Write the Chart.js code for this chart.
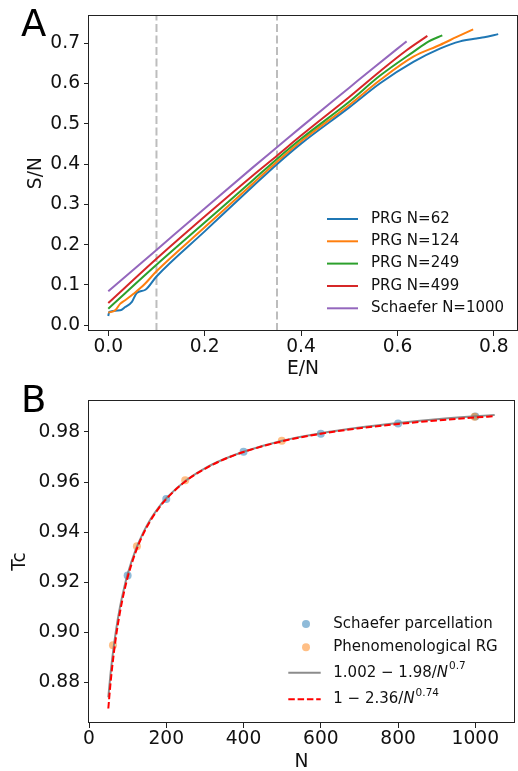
<!DOCTYPE html>
<html>
<head>
<meta charset="utf-8">
<script src="https://cdn.jsdelivr.net/npm/chart.js@4"></script>
<style>
  body { margin: 0; background: #fff; width: 518px; height: 771px; overflow: hidden; position: relative; }
  canvas { position: absolute; left: 0; }
  #chartA { top: 0; }
  #chartB { top: 385px; }
  .panel { position: absolute; left: 21px; font: 37px "DejaVu Sans"; color: #000; line-height: 1; z-index: 2; }
</style>
</head>
<body>
<div class="panel" style="top:5px">A</div>
<div class="panel" style="top:381px">B</div>
<canvas id="chartA" width="518" height="385"></canvas>
<canvas id="chartB" width="518" height="386"></canvas>
<script>
// ---- panel A: entropy vs energy per node ----
const prg62E  = [0, 0.002, 0.025, 0.035, 0.049, 0.059, 0.077, 0.1, 0.2, 0.3, 0.35, 0.4, 0.5, 0.564, 0.633, 0.688, 0.73, 0.764, 0.78, 0.809];
const prg62S  = [0.023, 0.033, 0.037, 0.045, 0.058, 0.080, 0.088, 0.121, 0.233, 0.345, 0.400, 0.451, 0.541, 0.601, 0.654, 0.687, 0.705, 0.712, 0.715, 0.723];
const prg124E = [0, 0.0145, 0.025, 0.035, 0.0525, 0.073, 0.1, 0.2, 0.3, 0.35, 0.4, 0.5, 0.564, 0.633, 0.688, 0.723, 0.757];
const prg124S = [0.031, 0.037, 0.0535, 0.062, 0.078, 0.099, 0.134, 0.243, 0.352, 0.406, 0.457, 0.547, 0.609, 0.667, 0.696, 0.716, 0.735];
const prg249E = [0, 0.1, 0.2, 0.3, 0.35, 0.4, 0.5, 0.564, 0.633, 0.665, 0.693];
const prg249S = [0.041, 0.150, 0.255, 0.360, 0.413, 0.463, 0.555, 0.620, 0.679, 0.705, 0.720];
const prg499E = [0, 0.1, 0.2, 0.3, 0.35, 0.4, 0.5, 0.564, 0.619, 0.662];
const prg499S = [0.055, 0.165, 0.270, 0.372, 0.421, 0.471, 0.567, 0.631, 0.683, 0.7185];
const schE    = [0, 0.1, 0.2, 0.3, 0.35, 0.4, 0.5, 0.55, 0.6, 0.619];
const schS    = [0.084, 0.187, 0.290, 0.392, 0.442, 0.492, 0.590, 0.639, 0.687, 0.705];
const seriesA = ['PRG N=62', 'PRG N=124', 'PRG N=249', 'PRG N=499', 'Schaefer N=1000'];
const vlineE  = [0.1, 0.35];
const xTicksA = [0, 0.2, 0.4, 0.6, 0.8];
const yTicksA = [0, 0.1, 0.2, 0.3, 0.4, 0.5, 0.6, 0.7];
const xRangeA = [-0.04, 0.848];
const yRangeA = [-0.0145, 0.770];

// ---- panel B: critical temperature vs N ----
const schaeferN  = [100, 200, 400, 600, 800, 1000];
const schaeferTc = [0.9226, 0.9532, 0.9721, 0.9793, 0.9834, 0.9862];
const prgN  = [62, 124, 249, 499, 998];
const prgTc = [0.8948, 0.9343, 0.9607, 0.9765, 0.9861];
const fitN    = [50, 55, 60, 70, 80, 90, 100, 120, 140, 160, 180, 200, 250, 300, 350, 400, 500, 600, 700, 800, 900, 1000, 1050];
const fitGray = [0.8740, 0.8822, 0.8893, 0.9008, 0.9099, 0.9171, 0.9232, 0.9326, 0.9397, 0.9453, 0.9498, 0.9535, 0.9605, 0.9655, 0.9692, 0.9721, 0.9765, 0.9795, 0.9818, 0.9836, 0.9851, 0.9863, 0.9868];
const fitRed  = [0.8695, 0.8784, 0.8860, 0.8983, 0.9078, 0.9155, 0.9219, 0.9317, 0.9391, 0.9448, 0.9494, 0.9532, 0.9603, 0.9653, 0.9691, 0.9720, 0.9763, 0.9793, 0.9815, 0.9832, 0.9846, 0.9858, 0.9863];
const seriesB = ['Schaefer parcellation', 'Phenomenological RG', '1.002 \u2212 1.98/N^0.7', '1 \u2212 2.36/N^0.74'];
const xTicksB = [0, 200, 400, 600, 800, 1000];
const yTicksB = [0.88, 0.90, 0.92, 0.94, 0.96, 0.98];
const xRangeB = [0, 1100];
const yRangeB = [0.8637, 0.9927];

const FONT = '"DejaVu Sans"';
const pts = (xs, ys) => xs.map((x, i) => ({ x: x, y: ys[i] }));

// legend drawn by hand so it can sit inside the axes like matplotlib
const handLegend = {
  id: 'handLegend',
  afterDatasetsDraw(chart, args, o) {
    if (!o.rows) return;
    const ctx = chart.ctx;
    ctx.save();
    ctx.textBaseline = 'middle';
    let k = 0;
    chart.data.datasets.forEach(ds => {
      if (!ds.label) return;
      const y = o.rows[k++];
      if (ds.showLine === false) {
        ctx.beginPath();
        ctx.fillStyle = ds.backgroundColor;
        ctx.arc(o.markX, y, 4, 0, Math.PI * 2);
        ctx.fill();
      } else {
        ctx.beginPath();
        ctx.strokeStyle = ds.borderColor;
        ctx.lineWidth = ds.borderWidth;
        ctx.setLineDash(ds.borderDash || []);
        ctx.moveTo(o.lineX[0], y);
        ctx.lineTo(o.lineX[1], y);
        ctx.stroke();
        ctx.setLineDash([]);
      }
      ctx.fillStyle = '#111';
      let x = o.textX;
      const parts = ds.label.split('^');
      if (parts.length === 1) {
        ctx.font = '15px ' + FONT;
        ctx.fillText(ds.label, x, y);
      } else {
        const head = parts[0].slice(0, -1);
        const v = parts[0].slice(-1);
        ctx.font = '15px ' + FONT;
        ctx.fillText(head, x, y);
        x += ctx.measureText(head).width;
        ctx.font = 'oblique 15px ' + FONT;
        ctx.fillText(v, x, y);
        x += ctx.measureText(v).width + 1;
        ctx.font = '10.5px ' + FONT;
        ctx.fillText(parts[1], x, y - 6);
      }
    });
    ctx.restore();
  }
};

// full box round the plot area
const frame = {
  id: 'frame',
  afterDraw(chart) {
    const { left, top, right, bottom } = chart.chartArea;
    const ctx = chart.ctx;
    ctx.save();
    ctx.strokeStyle = '#222';
    ctx.lineWidth = 1;
    ctx.strokeRect(Math.round(left) - 0.5, Math.round(top) + 0.5, Math.round(right - left) + 1, Math.round(bottom - top) - 1);
    ctx.restore();
  }
};

function axis(range, ticks, decimals, title, titlePad, size) {
  return {
    type: 'linear',
    min: range[0],
    max: range[1],
    afterBuildTicks: s => { s.ticks = ticks.map(v => ({ value: v })); },
    afterFit: s => { if (s.isHorizontal()) s.height = size; else s.width = size; },
    grid: { drawOnChartArea: false, tickLength: 5, tickColor: '#222', color: '#222' },
    border: { display: false },
    ticks: {
      color: '#111',
      font: { family: FONT, size: 18.67 },
      padding: 0,
      autoSkip: false,
      maxRotation: 0,
      callback: v => v.toFixed(decimals)
    },
    title: {
      display: true,
      text: title,
      color: '#111',
      font: { family: FONT, size: 18.67, lineHeight: 1 },
      padding: titlePad
    }
  };
}

const tab = ['#1f77b4', '#ff7f0e', '#2ca02c', '#d62728', '#9467bd'];
const curvesA = [[prg62E, prg62S], [prg124E, prg124S], [prg249E, prg249S], [prg499E, prg499S], [schE, schS]];

const dsA = curvesA.map((c, i) => ({
  label: seriesA[i],
  data: pts(c[0], c[1]),
  showLine: true,
  borderColor: tab[i],
  borderWidth: 2,
  pointRadius: 0,
  cubicInterpolationMode: 'monotone',
  order: 5 - i
}));
vlineE.forEach(e => dsA.push({
  data: pts([e, e], yRangeA),
  showLine: true,
  borderColor: '#bdbdbd',
  borderWidth: 2,
  borderDash: [8, 3.5],
  pointRadius: 0,
  order: 10
}));

const xA = axis(xRangeA, xTicksA, 1, 'E/N', { bottom: 7 }, 54);
xA.ticks.padding = 0;
const yA = axis(yRangeA, yTicksA, 1, 'S/N', { top: 26.5 }, 89);
yA.ticks.padding = 4;

new Chart(document.getElementById('chartA'), {
  type: 'scatter',
  data: { datasets: dsA },
  options: {
    responsive: false,
    animation: false,
    devicePixelRatio: 1,
    layout: { padding: { top: 14, right: 1, left: 0, bottom: 0 } },
    scales: { x: xA, y: yA },
    plugins: {
      legend: { display: false },
      tooltip: { enabled: false },
      handLegend: { rows: [219, 241.3, 263.6, 286, 308.3], lineX: [327, 358], textX: 371 }
    }
  },
  plugins: [handLegend, frame]
});

const dsB = [
  {
    label: seriesB[0],
    data: pts(schaeferN, schaeferTc),
    showLine: false,
    backgroundColor: 'rgba(31,119,180,0.5)',
    pointBackgroundColor: 'rgba(31,119,180,0.5)',
    pointBorderWidth: 0,
    pointRadius: 4,
    order: 3
  },
  {
    label: seriesB[1],
    data: pts(prgN, prgTc),
    showLine: false,
    backgroundColor: 'rgba(255,127,14,0.5)',
    pointBackgroundColor: 'rgba(255,127,14,0.5)',
    pointBorderWidth: 0,
    pointRadius: 4,
    order: 2
  },
  {
    label: seriesB[2],
    data: pts(fitN, fitGray),
    showLine: true,
    borderColor: 'rgba(128,128,128,0.9)',
    borderWidth: 2,
    pointRadius: 0,
    cubicInterpolationMode: 'monotone',
    order: 1
  },
  {
    label: seriesB[3],
    data: pts(fitN, fitRed),
    showLine: true,
    borderColor: '#ff0000',
    borderWidth: 2,
    borderDash: [6.5, 2.8],
    pointRadius: 0,
    cubicInterpolationMode: 'monotone',
    order: 0
  }
];

const xB = axis(xRangeB, xTicksB, 0, 'N', { bottom: 0 }, 48);
xB.ticks.padding = 0;
const yB = axis(yRangeB, yTicksB, 2, 'Tc', { top: 10.4 }, 89);
yB.ticks.padding = 4;

new Chart(document.getElementById('chartB'), {
  type: 'scatter',
  data: { datasets: dsB },
  options: {
    responsive: false,
    animation: false,
    devicePixelRatio: 1,
    layout: { padding: { top: 11, right: 1, left: 0, bottom: 0 } },
    scales: { x: xB, y: yB },
    plugins: {
      legend: { display: false },
      tooltip: { enabled: false },
      handLegend: { rows: [239, 262.3, 287.7, 314.3], markX: 306, lineX: [288.3, 320.7], textX: 333.3 }
    }
  },
  plugins: [handLegend, frame]
});
</script>
</body>
</html>
